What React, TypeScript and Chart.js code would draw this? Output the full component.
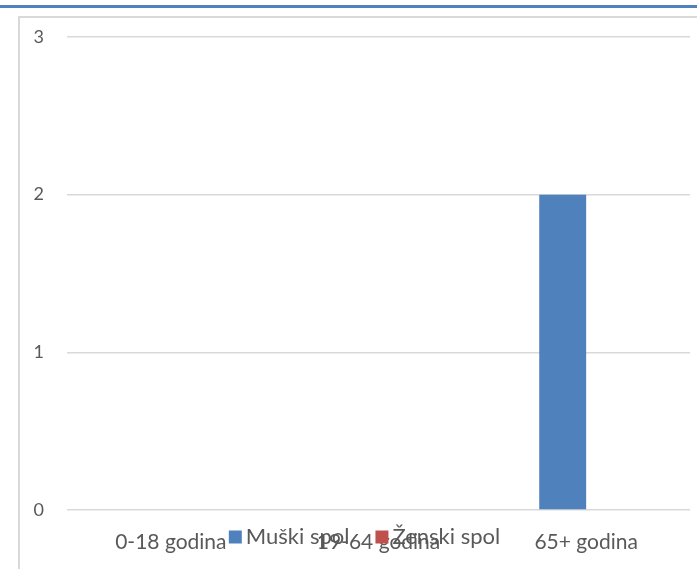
import React, { useEffect, useRef } from "react";
import { Chart, registerables } from "chart.js";

Chart.register(...registerables);

const categories = ["0-18 godina", "19-64 godina", "65+ godina"];
const seriesLabels = ["Muški spol", "Ženski spol"];
const muskiSpol = [0, 0, 2];
const zenskiSpol = [0, 0, 0];
const yTicks = [0, 1, 2, 3];

const BLUE = "#4f81bd";
const RED = "#c0504d";
const TEXT = "#595959";

const overlapLegend = {
  id: "overlapLegend",
  afterDraw(chart: any) {
    const ctx = chart.ctx;
    const area = chart.chartArea;
    const y = area.bottom + 27;
    ctx.save();
    ctx.font = "22px Lato";
    ctx.textBaseline = "middle";
    const box = 13;
    const gap = 4;
    const itemGap = 26;
    const items = chart.data.datasets.map((ds: any) => ({
      label: ds.label,
      color: ds.backgroundColor,
      w: ctx.measureText(ds.label).width,
    }));
    const total =
      items.reduce((s: number, it: any) => s + box + gap + it.w, 0) +
      itemGap * (items.length - 1);
    let x = (area.left + area.right) / 2 - 14 - total / 2;
    for (const it of items) {
      ctx.fillStyle = it.color;
      ctx.fillRect(x, y - box / 2, box, box);
      x += box + gap;
      ctx.fillStyle = TEXT;
      ctx.fillText(it.label, x, y);
      x += it.w + itemGap;
    }
    ctx.restore();
  },
};

export default function App() {
  const ref = useRef<HTMLCanvasElement | null>(null);

  useEffect(() => {
    if (!ref.current) return;
    const chart = new Chart(ref.current, {
      type: "bar",
      data: {
        labels: categories,
        datasets: [
          {
            label: seriesLabels[0],
            data: muskiSpol,
            backgroundColor: BLUE,
            borderWidth: 0,
          },
          {
            label: seriesLabels[1],
            data: zenskiSpol,
            backgroundColor: RED,
            borderWidth: 0,
          },
        ],
      },
      options: {
        animation: false,
        responsive: true,
        maintainAspectRatio: false,
        datasets: {
          bar: { categoryPercentage: 0.452, barPercentage: 1 },
        },
        layout: { padding: { left: 0, top: 37, right: 7, bottom: 0 } },
        plugins: {
          legend: { display: false },
          tooltip: { enabled: false },
        },
        scales: {
          x: {
            grid: { display: false, drawTicks: false },
            border: { display: false },
            ticks: {
              color: TEXT,
              font: { family: "Lato", size: 21 },
              padding: 20,
              maxRotation: 0,
              autoSkip: false,
            },
            afterFit(scale: any) {
              scale.height = 59;
            },
          },
          y: {
            min: yTicks[0],
            max: yTicks[yTicks.length - 1],
            afterBuildTicks(scale: any) {
              scale.ticks = yTicks.map((v) => ({ value: v }));
            },
            grid: { color: "#d9d9d9", lineWidth: 1.6, drawTicks: false },
            border: { display: false },
            ticks: {
              color: TEXT,
              font: { family: "Lato", size: 18 },
              padding: 23,
            },
            afterFit(scale: any) {
              scale.width = 67;
            },
          },
        },
      },
      plugins: [overlapLegend],
    });
    return () => chart.destroy();
  }, []);

  return (
    <div
      style={{
        position: "absolute",
        left: 0,
        top: 0,
        width: 697,
        height: 569,
        overflow: "hidden",
        background: "#ffffff",
      }}
    >
      <div
        style={{
          position: "absolute",
          left: 0,
          top: 5,
          width: 697,
          height: 3,
          background: BLUE,
        }}
      />
      <div
        style={{
          position: "absolute",
          left: 18,
          top: 16,
          width: 700,
          height: 600,
          borderLeft: "2px solid #d9d9d9",
          borderTop: "2px solid #d9d9d9",
        }}
      />
      <div
        style={{
          position: "absolute",
          left: 0,
          top: 0,
          width: 697,
          height: 569,
        }}
      >
        <canvas ref={ref} />
      </div>
    </div>
  );
}
